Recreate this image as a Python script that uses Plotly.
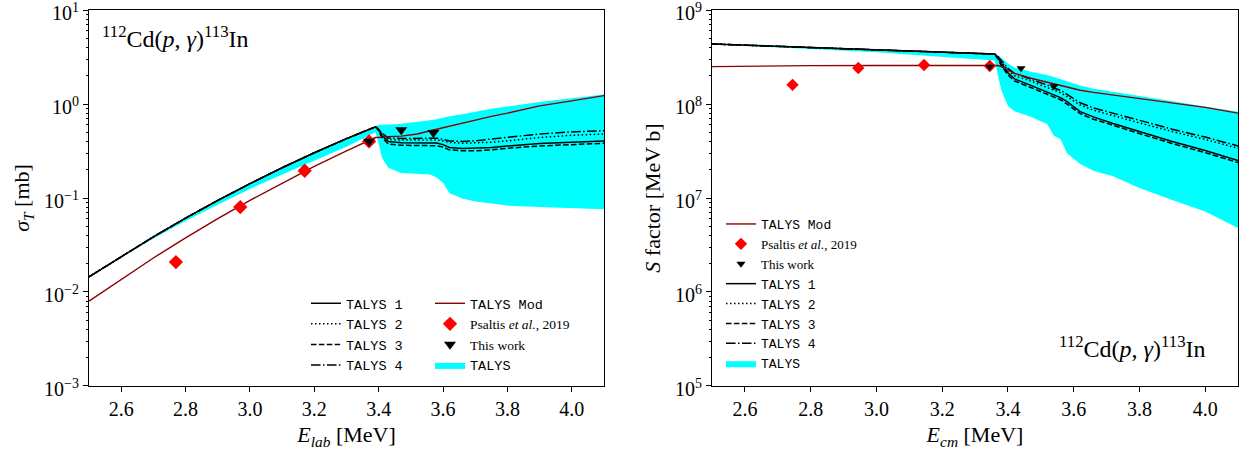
import plotly.graph_objects as go

# ---------------- data: left panel (cross section, mb) ----------------
E_L = [2.50, 2.60, 2.70, 2.80, 2.90, 3.00, 3.10, 3.20, 3.30, 3.39, 3.40, 3.41, 3.43,
       3.47, 3.52, 3.56, 3.58, 3.60, 3.62, 3.66, 3.70, 3.75, 3.80, 3.90, 4.00, 4.10]
T1_L = [0.0145, 0.0239, 0.0386, 0.0611, 0.0943, 0.142, 0.210, 0.303, 0.428, 0.572, 0.53, 0.46, 0.40,
        0.388, 0.386, 0.386, 0.384, 0.37, 0.345, 0.337, 0.338, 0.345, 0.358, 0.38, 0.392, 0.404]
T2_L = [0.0145, 0.0239, 0.0386, 0.0611, 0.0943, 0.142, 0.210, 0.303, 0.428, 0.572, 0.54, 0.48, 0.42,
        0.414, 0.413, 0.414, 0.414, 0.405, 0.39, 0.383, 0.385, 0.392, 0.405, 0.44, 0.465, 0.48]
T3_L = [0.0145, 0.0239, 0.0386, 0.0611, 0.0943, 0.142, 0.210, 0.303, 0.428, 0.572, 0.52, 0.44, 0.375,
        0.364, 0.362, 0.362, 0.36, 0.348, 0.325, 0.318, 0.318, 0.325, 0.338, 0.358, 0.37, 0.382]
T4_L = [0.0145, 0.0239, 0.0386, 0.0611, 0.0943, 0.142, 0.210, 0.303, 0.428, 0.572, 0.545, 0.49, 0.435,
        0.43, 0.43, 0.432, 0.432, 0.42, 0.405, 0.40, 0.405, 0.425, 0.44, 0.48, 0.505, 0.52]
MOD_L = [0.0080, 0.0137, 0.0230, 0.0376, 0.0603, 0.0945, 0.1447, 0.217, 0.318, 0.44, 0.442, 0.445, 0.45,
         0.455, 0.48, 0.52, 0.54, 0.56, 0.58, 0.62, 0.67, 0.74, 0.80, 0.955, 1.08, 1.23]
BAND_HI_L = [0.0145, 0.0239, 0.0385, 0.061, 0.094, 0.141, 0.208, 0.30, 0.42, 0.575, 0.60, 0.60, 0.60,
             0.615, 0.64, 0.67, 0.69, 0.72, 0.74, 0.78, 0.83, 0.89, 0.94, 1.05, 1.15, 1.26]
BAND_LO_L = [0.0143, 0.0233, 0.037, 0.057, 0.085, 0.125, 0.178, 0.25, 0.35, 0.50, 0.38, 0.27, 0.21,
             0.185, 0.18, 0.178, 0.165, 0.145, 0.112, 0.099, 0.092, 0.087, 0.083, 0.080, 0.078, 0.076]
PS_E_L = [2.77, 2.97, 3.17, 3.37]
PS_Y_L = [0.0208, 0.080, 0.195, 0.40]
TW_E_L = [3.37, 3.47, 3.57]
TW_Y_L = [0.40, 0.53, 0.495]

# ---------------- data: right panel (S factor, MeV b) ----------------
E_R = [2.50, 2.60, 2.80, 3.00, 3.20, 3.35, 3.36, 3.37, 3.38, 3.40, 3.42, 3.47, 3.52, 3.54,
       3.56, 3.58, 3.62, 3.66, 3.72, 3.80, 3.90, 4.00, 4.10]
T1_R = [4.35e8, 4.23e8, 3.99e8, 3.77e8, 3.56e8, 3.41e8, 3.40e8, 3.1e8, 2.7e8, 2.15e8, 1.85e8, 1.58e8,
        1.35e8, 1.26e8, 1.17e8, 1.06e8, 8.3e7, 7.3e7, 6.2e7, 5.1e7, 4.0e7, 3.2e7, 2.5e7]
T2_R = [4.35e8, 4.23e8, 3.99e8, 3.77e8, 3.56e8, 3.41e8, 3.40e8, 3.15e8, 2.8e8, 2.3e8, 2.0e8, 1.75e8,
        1.5e8, 1.4e8, 1.32e8, 1.2e8, 9.75e7, 8.6e7, 7.5e7, 6.3e7, 5.1e7, 4.2e7, 3.38e7]
T3_R = [4.35e8, 4.23e8, 3.99e8, 3.77e8, 3.56e8, 3.41e8, 3.40e8, 3.0e8, 2.57e8, 2.04e8, 1.76e8, 1.5e8,
        1.28e8, 1.2e8, 1.11e8, 1.0e8, 7.9e7, 6.9e7, 5.9e7, 4.85e7, 3.8e7, 3.04e7, 2.38e7]
T4_R = [4.35e8, 4.23e8, 3.99e8, 3.77e8, 3.56e8, 3.41e8, 3.40e8, 3.2e8, 2.9e8, 2.4e8, 2.12e8, 1.85e8,
        1.59e8, 1.48e8, 1.4e8, 1.27e8, 1.03e8, 9.1e7, 7.95e7, 6.7e7, 5.4e7, 4.45e7, 3.58e7]
MOD_R = [2.50e8, 2.53e8, 2.56e8, 2.57e8, 2.58e8, 2.58e8, 2.58e8, 2.57e8, 2.5e8, 2.3e8, 2.12e8, 1.88e8,
         1.70e8, 1.64e8, 1.58e8, 1.50e8, 1.40e8, 1.33e8, 1.25e8, 1.15e8, 1.02e8, 9.2e7, 8.0e7]
BAND_HI_R = [4.35e8, 4.23e8, 3.99e8, 3.77e8, 3.56e8, 3.41e8, 3.40e8, 3.3e8, 3.1e8, 2.7e8, 2.45e8, 2.2e8,
             2.04e8, 1.95e8, 1.85e8, 1.75e8, 1.57e8, 1.45e8, 1.35e8, 1.22e8, 1.06e8, 9.5e7, 8.3e7]
BAND_LO_R = [4.33e8, 4.18e8, 3.85e8, 3.55e8, 3.2e8, 2.95e8, 2.9e8, 2.0e8, 1.41e8, 9.6e7, 8.4e7, 7.3e7,
             6.1e7, 4.6e7, 4.25e7, 3.0e7, 2.3e7, 1.95e7, 1.7e7, 1.28e7, 9.5e6, 7.2e6, 4.8e6]
PS_E_R = [2.745, 2.945, 3.145, 3.345]
PS_Y_R = [1.6e8, 2.42e8, 2.6e8, 2.54e8]
TW_E_R = [3.345, 3.44, 3.54]
TW_Y_R = [2.5e8, 2.4e8, 1.55e8]

X_TICKS = [2.6, 2.8, 3.0, 3.2, 3.4, 3.6, 3.8, 4.0]
X_TICKTEXT = ["2.6", "2.8", "3.0", "3.2", "3.4", "3.6", "3.8", "4.0"]
YL_TICKS = [1e-3, 1e-2, 1e-1, 1e0, 1e1]
YL_TEXT = ["10<sup>−3</sup>", "10<sup>−2</sup>", "10<sup>−1</sup>", "10<sup>0</sup>", "10<sup>1</sup>"]
YR_TICKS = [1e5, 1e6, 1e7, 1e8, 1e9]
YR_TEXT = ["10<sup>5</sup>", "10<sup>6</sup>", "10<sup>7</sup>", "10<sup>8</sup>", "10<sup>9</sup>"]

SERIF = "Liberation Serif"
CYAN = "#00FFFF"
DARKRED = "#8B0000"


def tt(s):
    return '<span style="font-family:Liberation Mono">' + s + '</span>'


PS_NAME = 'Psaltis <i>et al.</i>, 2019'
LW = 1.5
DASHES = {"T1": "solid", "T2": "1.5px,2.5px", "T3": "5.5px,2.4px", "T4": "9.6px,2.4px,1.5px,2.4px"}

fig = go.Figure()


def add_panel(xa, ya, E, T1, T2, T3, T4, MOD, BHI, BLO, PSE, PSY, TWE, TWY, leg_a, leg_b, ranks,
              dsize, tsize):
    fig.add_trace(go.Scatter(x=E, y=BLO, xaxis=xa, yaxis=ya, mode="lines",
                             line=dict(width=0, color=CYAN), showlegend=False, hoverinfo="skip"))
    fig.add_trace(go.Scatter(x=E, y=BHI, xaxis=xa, yaxis=ya, mode="lines", fill="tonexty",
                             fillcolor=CYAN, line=dict(width=0, color=CYAN), name=tt("TALYS"),
                             legend=leg_b, legendrank=ranks["band"]))
    for key, arr in [("T1", T1), ("T2", T2), ("T3", T3), ("T4", T4)]:
        fig.add_trace(go.Scatter(x=E, y=arr, xaxis=xa, yaxis=ya, mode="lines",
                                 line=dict(color="black", width=LW, dash=DASHES[key]),
                                 name=tt("TALYS " + key[1]), legend=leg_a, legendrank=ranks[key]))
    fig.add_trace(go.Scatter(x=E, y=MOD, xaxis=xa, yaxis=ya, mode="lines",
                             line=dict(color=DARKRED, width=1.4), name=tt("TALYS Mod"),
                             legend=leg_b, legendrank=ranks["mod"]))
    fig.add_trace(go.Scatter(x=PSE, y=PSY, xaxis=xa, yaxis=ya, mode="markers",
                             marker=dict(symbol="diamond", size=dsize, color="red", line=dict(width=0)),
                             name=PS_NAME, legend=leg_b, legendrank=ranks["ps"]))
    fig.add_trace(go.Scatter(x=TWE, y=TWY, xaxis=xa, yaxis=ya, mode="markers",
                             marker=dict(symbol="triangle-down", size=tsize, color="black",
                                         line=dict(width=0)),
                             name="This work", legend=leg_b, legendrank=ranks["tw"]))


add_panel("x", "y", E_L, T1_L, T2_L, T3_L, T4_L, MOD_L, BAND_HI_L, BAND_LO_L,
          PS_E_L, PS_Y_L, TW_E_L, TW_Y_L, "legend", "legend2",
          dict(T1=1, T2=2, T3=3, T4=4, mod=1, ps=2, tw=3, band=4), 11, 10.5)
add_panel("x2", "y2", E_R, T1_R, T2_R, T3_R, T4_R, MOD_R, BAND_HI_R, BAND_LO_R,
          PS_E_R, PS_Y_R, TW_E_R, TW_Y_R, "legend3", "legend3",
          dict(T1=4, T2=5, T3=6, T4=7, mod=1, ps=2, tw=3, band=8), 9.5, 8)

W, H = 1252, 450
tickfont = dict(family=SERIF, size=20, color="black")
titlefont = dict(family=SERIF, size=22, color="black")

common_x = dict(range=[2.5, 4.1], tickmode="array", tickvals=X_TICKS, ticktext=X_TICKTEXT,
                ticks="outside", ticklen=5, tickwidth=1, tickcolor="black", showline=True,
                linecolor="black", linewidth=1, mirror=True, showgrid=False, zeroline=False,
                tickfont=tickfont, ticklabeloverflow="allow", automargin=False)


def minor_vals(lo, hi):
    out = []
    for d in range(lo, hi):
        for m in range(2, 10):
            out.append(m * 10.0 ** d)
    return out


common_y = dict(type="log", tickmode="array", ticks="outside", ticklen=5, tickwidth=1,
                tickcolor="black", showline=True, linecolor="black", linewidth=1, mirror=True,
                showgrid=False, zeroline=False, tickfont=tickfont, ticklabeloverflow="allow",
                automargin=False, ticklabelshift=3)

yd = [1 - 386 / H, 1 - 10 / H]
legfont = dict(family=SERIF, size=13, color="black")
fig.update_layout(
    width=W, height=H, margin=dict(l=0, r=0, t=0, b=0, autoexpand=False),
    paper_bgcolor="white", plot_bgcolor="white",
    xaxis=dict(common_x, domain=[89 / W, 604 / W], anchor="y",
               title=dict(text="<i>E<sub>lab</sub></i> [MeV]", font=titlefont, standoff=12)),
    yaxis=dict(common_y, domain=yd, anchor="x", range=[-3.0005, 1.0005], tickvals=YL_TICKS,
               ticktext=YL_TEXT,
               minor=dict(tickmode="array", tickvals=minor_vals(-3, 1), ticks="outside", ticklen=2.5,
                          tickwidth=0.8, tickcolor="black", showgrid=False),
               title=dict(text="<i>σ<sub>T</sub></i> [mb]", font=titlefont, standoff=8)),
    xaxis2=dict(common_x, domain=[712 / W, 1238 / W], anchor="y2",
                title=dict(text="<i>E<sub>cm</sub></i> [MeV]", font=titlefont, standoff=12)),
    yaxis2=dict(common_y, domain=yd, anchor="x2", range=[4.9995, 9.0005], tickvals=YR_TICKS,
                ticktext=YR_TEXT,
                minor=dict(tickmode="array", tickvals=minor_vals(5, 9), ticks="outside", ticklen=2.5,
                           tickwidth=0.8, tickcolor="black", showgrid=False),
                title=dict(text="<i>S</i> factor [MeV b]", font=titlefont, standoff=8)),
    legend=dict(x=306 / W, y=1 - 288 / H, xanchor="left", yanchor="top", bgcolor="rgba(0,0,0,0)",
                font=dict(family=SERIF, size=13.5, color="black"), traceorder="normal",
                itemwidth=30, tracegroupgap=0),
    legend2=dict(x=430 / W, y=1 - 288 / H, xanchor="left", yanchor="top", bgcolor="rgba(0,0,0,0)",
                 font=dict(family=SERIF, size=13.5, color="black"), traceorder="normal",
                 itemwidth=30, tracegroupgap=0),
    legend3=dict(x=721 / W, y=1 - 209 / H, xanchor="left", yanchor="top", bgcolor="rgba(0,0,0,0)",
                 font=legfont, traceorder="normal", itemwidth=30, tracegroupgap=0),
    annotations=[
        dict(text="<sup>112</sup>Cd(<i>p</i>, <i>γ</i>)<sup>113</sup>In", xref="paper", yref="paper",
             x=100 / W, y=1 - 37 / H, xanchor="left", yanchor="middle", showarrow=False,
             font=dict(family=SERIF, size=24, color="black")),
        dict(text="<sup>112</sup>Cd(<i>p</i>, <i>γ</i>)<sup>113</sup>In", xref="paper", yref="paper",
             x=1208 / W, y=1 - 347 / H, xanchor="right", yanchor="middle", showarrow=False,
             font=dict(family=SERIF, size=24, color="black")),
    ],
    showlegend=True,
)

fig.write_html("out.html")
